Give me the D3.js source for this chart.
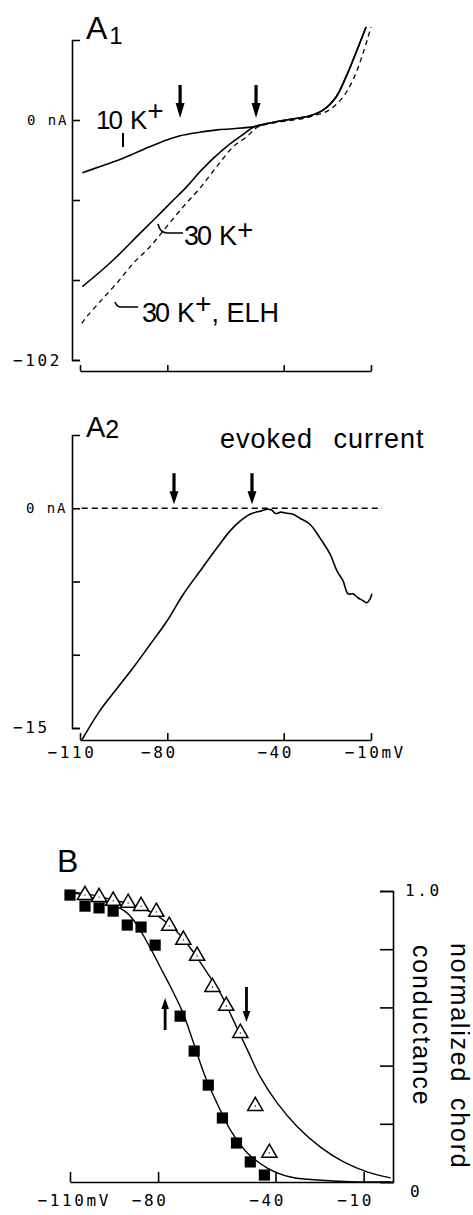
<!DOCTYPE html>
<html>
<head>
<meta charset="utf-8">
<script src="https://cdn.jsdelivr.net/npm/d3@7"></script>
<style>
body{margin:0;background:#fff}
.lbl{font-family:"Liberation Sans",Arial,sans-serif;fill:#000}
.tk{font-family:"DejaVu Sans Mono",monospace;fill:#000}
</style>
</head>
<body>
<div id="chart"></div>
<script>
var W = 473, H = 1215;

// ---- A1: I-V curves (mV, nA) ----
var a1_10K = [[-109.2,-22.4],[-103.1,-19.8],[-97.4,-17.3],[-91.7,-14.4],[-85.9,-11.3],[-80.2,-8.5],
              [-75.6,-6.7],[-68.8,-5.2],[-63.0,-4.2],[-57.3,-3.7],[-49.9,-2.8]]
var a1_30K = [[-109.2,-70.8],[-103.1,-64.5],[-97.4,-58.1],[-89.4,-48.2],[-83.6,-41.1],[-77.9,-34.0],
              [-73.3,-28.3],[-68.8,-22.0],[-64.2,-16.3],[-59.6,-11.3],[-55.0,-7.1],[-49.9,-2.8]]
// both solid curves run together above -50 mV
var a1_shared = [[-49.9,-2.8],[-44.7,-1.3],[-39.2,0],[-31.3,1.7],[-26.5,4.2],[-22.0,9.8],[-18.6,18.3],
                 [-15.2,28.5],[-11.7,39.5]]
var a1_ELH = [[-109.4,-86.4],[-107.7,-83.6],[-103.1,-77.2],[-97.4,-69.4],[-91.7,-60.9],[-85.9,-53.8],
              [-80.2,-45.3],[-74.5,-36.8],[-68.8,-29.0],[-63.0,-19.8],[-57.3,-11.3],[-52.7,-7.1],
              [-49.3,-3.3],[-44.7,-1.5],[-40.2,-0.6],[-34.4,0.4],[-28.9,2.1],[-24.4,4.2],[-19.6,9.8],
              [-16.2,17.0],[-12.7,28.5],[-10.0,39.5]]
var a1_arrows = [-75.6, -49.5]

// ---- A2: evoked current (mV, nA) ----
var a2_evoked = [[-109.3,-15.8],[-103.1,-13.8],[-97.3,-12.3],[-91.8,-10.9],[-85.9,-9.3],[-80.1,-7.7],
                 [-74.6,-5.9],[-68.8,-4.3],[-62.9,-2.7],[-58.5,-1.56],[-55.0,-0.88],[-51.6,-0.41],
                 [-48.1,-0.2],[-45.4,-0.07],[-44.0,-0.14],[-43.0,-0.34],[-42.0,-0.34],[-41.3,-0.27],
                 [-38.9,-0.34],[-36.8,-0.41],[-34.4,-0.68],[-31.0,-1.09],[-27.5,-2.04],[-24.1,-3.12],
                 [-21.7,-4.28],[-19.6,-4.96],[-17.9,-5.84],[-16.2,-5.84],[-14.5,-6.11],[-12.7,-6.31],
                 [-11.4,-6.45],[-10.3,-6.18],[-9.7,-5.84]]
var a2_zero = [[-109.4,0],[-6.2,0]]
var a2_arrows = [-77.7, -50.9]

// ---- B: normalized chord conductance ----
var bSquares = [[-110.0,0.986],[-104.9,0.948],[-100.1,0.942],[-95.3,0.931],[-90.5,0.883],[-85.8,0.876],
                [-81.0,0.814],[-72.5,0.570],[-67.7,0.450],[-62.9,0.333],[-58.1,0.220],[-53.3,0.134],
                [-48.6,0.069],[-43.8,0.024]]
var bTriangles = [[-104.9,0.986],[-100.1,0.979],[-95.3,0.966],[-90.2,0.959],[-85.8,0.948],[-80.6,0.928],
                  [-76.2,0.880],[-71.4,0.832],[-66.7,0.777],[-61.5,0.670],[-56.8,0.605],[-52.0,0.512],
                  [-46.9,0.261],[-42.1,0.100]]
var bFitSquares = [[-110,0.997],[-102.2,0.976],[-95.3,0.952],[-90.5,0.924],[-87.1,0.882],[-83.4,0.818],
                   [-79.3,0.739],[-75.2,0.660],[-71.4,0.578],[-68.0,0.480],[-63.9,0.361],[-59.8,0.268],
                   [-55.4,0.179],[-49.6,0.100],[-42.8,0.048],[-34.9,0.017],[-25.7,0.007],[-14.4,0.001],[-0.8,0.0]]
var bFitTriangles = [[-110,0.997],[-102.2,0.986],[-95.3,0.969],[-88.5,0.952],[-81.7,0.924],[-76.9,0.890],
                     [-72.5,0.849],[-68.0,0.790],[-63.2,0.718],[-58.8,0.649],[-54.4,0.557],[-49.6,0.454],
                     [-45.2,0.361],[-39.4,0.271],[-32.5,0.189],[-24.7,0.120],[-16.8,0.069],[-8.6,0.034],[-0.8,0.014]]
var bArrowUp = [[-77.6,0.632]]
var bArrowDown = [[-49.9,0.55]]

var xTicksA = [-110,-80,-40,-10]
var xLabelsA2 = ["\u2212110","\u221280","\u221240","\u221210mV"]
var xLabelsB = ["\u2212110mV","\u221280","\u221240","\u221210"]
var yTicksA1 = [0,-34,-68,-102]
var yTicksA2 = [0,-5,-10,-15]
var yTicksB = [0,0.2,0.4,0.6,0.8,1.0]

var svg = d3.select("#chart").append("svg")
  .attr("width", W).attr("height", H)
  .style("background", "#fff")

// scales
var xA = d3.scaleLinear().domain([-110,-10]).range([80,371])
var yA1 = d3.scaleLinear().domain([34,-102]).range([40,360])
var yA2 = d3.scaleLinear().domain([5,-15]).range([435,728])
var xB = d3.scaleLinear().domain([-110,0]).range([70,393])
var yB = d3.scaleLinear().domain([0,1]).range([1182,891])

function cleanAxis(g){
  g.selectAll("path,line").attr("stroke","#000").attr("stroke-width",1.6)
  g.selectAll("text").remove()
}

// monospace tick label, digits roughly centred a bit left of the tick
var CW = 12.2
function xLabels(xs, ticks, labels, baseline){
  ticks.forEach(function(t,i){
    var s = labels[i], n = s.replace("mV","").length
    svg.append("text").attr("class","tk")
      .attr("x", xs(t) - 8 - n*CW/2).attr("y", baseline)
      .style("font-size","16px").style("letter-spacing","2.6px")
      .text(s)
  })
}
function tkText(x, y, s, size, ls){
  svg.append("text").attr("class","tk").attr("x",x).attr("y",y)
    .style("font-size",size+"px").style("letter-spacing",ls+"px").text(s)
}

function arrow(x, yTip, dir, len, hl, hw, sw){
  var y0 = yTip - dir*len, yh = yTip - dir*hl
  var pts = [[x-sw,y0],[x+sw,y0],[x+sw,yh],[x+hw,yh],[x,yTip],[x-hw,yh],[x-sw,yh]]
  svg.append("path").attr("d","M"+pts.join("L")+"Z").attr("fill","#000")
}

// =================== A1 ===================
svg.append("g").attr("transform","translate(72,0)")
  .call(d3.axisLeft(yA1).tickValues(yTicksA1).tickSize(-8).tickSizeOuter(-8))
  .call(cleanAxis)
svg.append("g").attr("transform","translate(0,371)")
  .call(d3.axisBottom(xA).tickValues(xTicksA).tickSize(-6).tickSizeOuter(0))
  .call(cleanAxis)

var lineA1 = d3.line().x(function(d){return xA(d[0])}).y(function(d){return yA1(d[1])})
  .curve(d3.curveCatmullRom.alpha(0.5))

svg.append("path").datum(a1_10K.concat(a1_shared.slice(1))).attr("d",lineA1)
  .attr("fill","none").attr("stroke","#000").attr("stroke-width",1.6)
svg.append("path").datum(a1_30K.concat(a1_shared.slice(1))).attr("d",lineA1)
  .attr("fill","none").attr("stroke","#000").attr("stroke-width",1.6)
svg.append("path").datum(a1_ELH).attr("d",lineA1)
  .attr("fill","none").attr("stroke","#000").attr("stroke-width",1.3)
  .attr("stroke-dasharray","5,4")

a1_arrows.forEach(function(v){ arrow(xA(v), yA1(0.85), 1, 33, 15, 4.5, 1.6) })

tkText(27, yA1(0)+5, "0 nA", 14, 1.9)
tkText(13, yA1(-102)+6, "\u2212102", 16, 2.6)

var tA1 = svg.append("text").attr("class","lbl").attr("x",86).attr("y",39).style("font-size","32px")
tA1.append("tspan").text("A")
tA1.append("tspan").attr("dx",2).attr("dy",5).style("font-size","24px").text("1")

// curve labels
var t10 = svg.append("text").attr("class","lbl").attr("x",96).attr("y",129).style("font-size","26px")
t10.append("tspan").style("letter-spacing","-2px").text("10")
t10.append("tspan").attr("dx",9).text("K")
t10.append("tspan").attr("dy",-9).style("font-size","28px").text("+")
svg.append("line").attr("x1",123).attr("x2",123).attr("y1",133).attr("y2",147)
  .attr("stroke","#000").attr("stroke-width",2)

var t30 = svg.append("text").attr("class","lbl").attr("x",184).attr("y",245).style("font-size","27px")
t30.append("tspan").style("letter-spacing","-2px").text("30")
t30.append("tspan").attr("dx",9).text("K")
t30.append("tspan").attr("dy",-6).style("font-size","28px").text("+")
svg.append("path").attr("d","M158,224Q160,233 167,233H183")
  .attr("fill","none").attr("stroke","#000").attr("stroke-width",1.6)

var tE = svg.append("text").attr("class","lbl").attr("x",142).attr("y",322).style("font-size","27px")
tE.append("tspan").style("letter-spacing","-2px").text("30")
tE.append("tspan").attr("dx",9).text("K")
tE.append("tspan").attr("dy",-9).style("font-size","28px").text("+")
tE.append("tspan").attr("dy",9).text(",  ELH")
svg.append("path").attr("d","M115,302Q117,307 121,307H138")
  .attr("fill","none").attr("stroke","#000").attr("stroke-width",1.6)

// =================== A2 ===================
svg.append("g").attr("transform","translate(72,0)")
  .call(d3.axisLeft(yA2).tickValues(yTicksA2).tickSize(-8).tickSizeOuter(-8))
  .call(cleanAxis)
svg.append("g").attr("transform","translate(0,740)")
  .call(d3.axisBottom(xA).tickValues(xTicksA).tickSize(-7).tickSizeOuter(0))
  .call(cleanAxis)

var lineA2 = d3.line().x(function(d){return xA(d[0])}).y(function(d){return yA2(d[1])})
  .curve(d3.curveCatmullRom.alpha(0.5))

svg.append("path").datum(a2_zero).attr("d",lineA2)
  .attr("fill","none").attr("stroke","#000").attr("stroke-width",1.4).attr("stroke-dasharray","6,4")
svg.append("path").datum(a2_evoked).attr("d",lineA2)
  .attr("fill","none").attr("stroke","#000").attr("stroke-width",1.6)

a2_arrows.forEach(function(v){ arrow(xA(v), yA2(0.27), 1, 31, 13, 4.5, 1.6) })

tkText(26, yA2(0)+5, "0 nA", 14, 1.9)
tkText(13, yA2(-15)+5, "\u221215", 16, 2.6)
xLabels(xA, xTicksA, xLabelsA2, 758)

var tA2 = svg.append("text").attr("class","lbl").attr("x",86).attr("y",437).style("font-size","29px")
tA2.append("tspan").text("A")
tA2.append("tspan").attr("dy",1).style("font-size","25px").text("2")

svg.append("text").attr("class","lbl").attr("x",220).attr("y",448)
  .style("font-size","27px").style("letter-spacing","1px").style("word-spacing","12px")
  .text("evoked current")

// =================== B ===================
svg.append("g").attr("transform","translate(0,1182)")
  .call(d3.axisBottom(xB).tickValues(xTicksA).tickSize(-10).tickSizeOuter(0))
  .call(cleanAxis)
svg.append("g").attr("transform","translate(393,0)")
  .call(d3.axisRight(yB).tickValues(yTicksB).tickSize(-13).tickSizeOuter(-13))
  .call(cleanAxis)

var lineB = d3.line().x(function(d){return xB(d[0])}).y(function(d){return yB(d[1])})
  .curve(d3.curveCatmullRom.alpha(0.5))

svg.append("path").datum(bFitSquares).attr("d",lineB)
  .attr("fill","none").attr("stroke","#000").attr("stroke-width",1.4)
svg.append("path").datum(bFitTriangles).attr("d",lineB)
  .attr("fill","none").attr("stroke","#000").attr("stroke-width",1.4)

svg.selectAll(".sq").data(bSquares).enter().append("path").attr("class","sq")
  .attr("d", d3.symbol().type(d3.symbolSquare).size(125))
  .attr("transform", function(d){return "translate("+xB(d[0])+","+yB(d[1])+")"})
  .attr("fill","#000")

var tri = svg.selectAll(".tri").data(bTriangles).enter().append("g").attr("class","tri")
  .attr("transform", function(d){return "translate("+xB(d[0])+","+yB(d[1])+")"})
tri.append("path").attr("d", d3.symbol().type(d3.symbolTriangle).size(100))
  .attr("fill","#fff").attr("stroke","#000").attr("stroke-width",1.5)
tri.append("circle").attr("r",0.7).attr("fill","#000")

bArrowUp.forEach(function(d){ arrow(xB(d[0]), yB(d[1]), -1, 32, 11, 3.8, 1.4) })
bArrowDown.forEach(function(d){ arrow(xB(d[0]), yB(d[1]), 1, 35, 11, 3.8, 1.4) })

xLabels(xB, xTicksA, xLabelsB, 1206)
tkText(405, yB(1)+5, "1.0", 16, 2.6)
tkText(410, yB(0)+15, "0", 16, 2.6)

svg.append("text").attr("class","lbl").attr("x",57).attr("y",872).style("font-size","32px").text("B")

svg.append("text").attr("class","lbl")
  .attr("transform","translate(451,943) rotate(90)")
  .style("font-size","25px").style("letter-spacing","1.8px").style("word-spacing","6px")
  .text("normalized chord")
svg.append("text").attr("class","lbl")
  .attr("transform","translate(413,945) rotate(90)")
  .style("font-size","25px").style("letter-spacing","1.8px")
  .text("conductance")
</script>
</body>
</html>
